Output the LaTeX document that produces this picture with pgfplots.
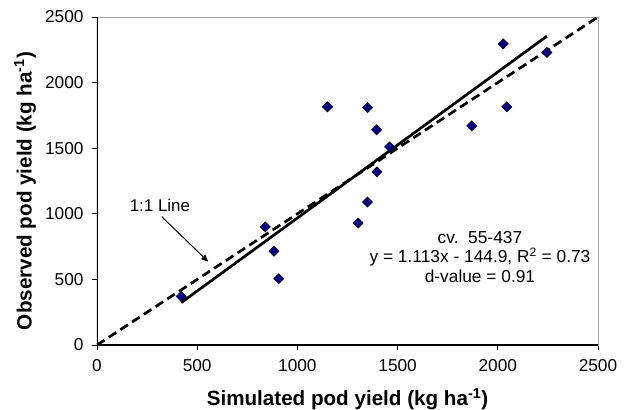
\documentclass[border=0pt]{standalone}
\usepackage{fontspec}
\setmainfont{Liberation Sans}
\usepackage{pgfplots}
\pgfplotsset{compat=1.18}
\usetikzlibrary{arrows.meta}
\definecolor{navy}{RGB}{0,0,128}
\begin{document}
\begin{tikzpicture}
\path[use as bounding box] (-97bp,-65bp) rectangle (527bp,345bp);
\begin{axis}[
  at={(0,0)}, anchor=south west,
  scale only axis, width=501bp, height=328bp,
  xmin=0, xmax=2500, ymin=0, ymax=2500,
  xtick={0,500,1000,1500,2000,2500},
  ytick={0,500,1000,1500,2000,2500},
  xtick pos=left, ytick pos=left,
  tick align=outside, major tick length=5bp,
  tick style={black, line width=0.8pt},
  axis line style={draw=gray!70, line width=0.8pt},
  ticklabel style={font=\fontsize{17.3}{19}\selectfont},
  xticklabel style={yshift=-6bp},
  yticklabel style={xshift=-5bp},
  /pgf/number format/assume math mode=true,
  /pgf/number format/set thousands separator={},
  xlabel={Simulated pod yield (kg ha\textsuperscript{-1})},
  ylabel={Observed pod yield (kg ha\textsuperscript{-1})},
  xlabel style={font=\fontsize{20.7}{22}\selectfont\bfseries, at={(axis description cs:0.5,-0.1646)}, anchor=center},
  ylabel style={font=\fontsize{20.7}{22}\selectfont\bfseries, at={(axis description cs:-0.1437,0.4695)}, anchor=center},
  clip=true,
]
\addplot[only marks, mark=square*, mark size=3.6bp,
  mark options={rotate=45, fill=navy, draw=black, line width=0.5pt}]
  coordinates {
  (420,370) (840,900) (883,715) (907,505) (1150,1815)
  (1303,930) (1350,1090) (1350,1810) (1395,1640) (1397,1320)
  (1460,1510) (1870,1670) (2027,2295) (2045,1815) (2245,2230)
  };
\addplot[black, line width=2.7bp, dash pattern=on 9bp off 5bp] coordinates {(0,0) (2500,2500)};
\addplot[black, line width=2.7bp] coordinates {(420,322.6) (2245,2353.8)};
\draw[black, line width=1.2bp] (axis cs:0,2500) -- (axis cs:0,0) -- (axis cs:2500,0);
\draw[black, line width=1bp, -{Triangle[length=7bp,width=6bp]}] (axis cs:323,978) -- (axis cs:555,635);
\node[font=\fontsize{17}{20}\selectfont] at (axis cs:314,1067) {1:1 Line};
\node[align=center, font=\fontsize{17.4}{19.7}\selectfont] at (axis cs:1911,671)
  {cv.\ \ 55-437\\ y = 1.113x - 144.9, R\textsuperscript{2} = 0.73\\ d-value = 0.91};
\end{axis}
\end{tikzpicture}
\end{document}
